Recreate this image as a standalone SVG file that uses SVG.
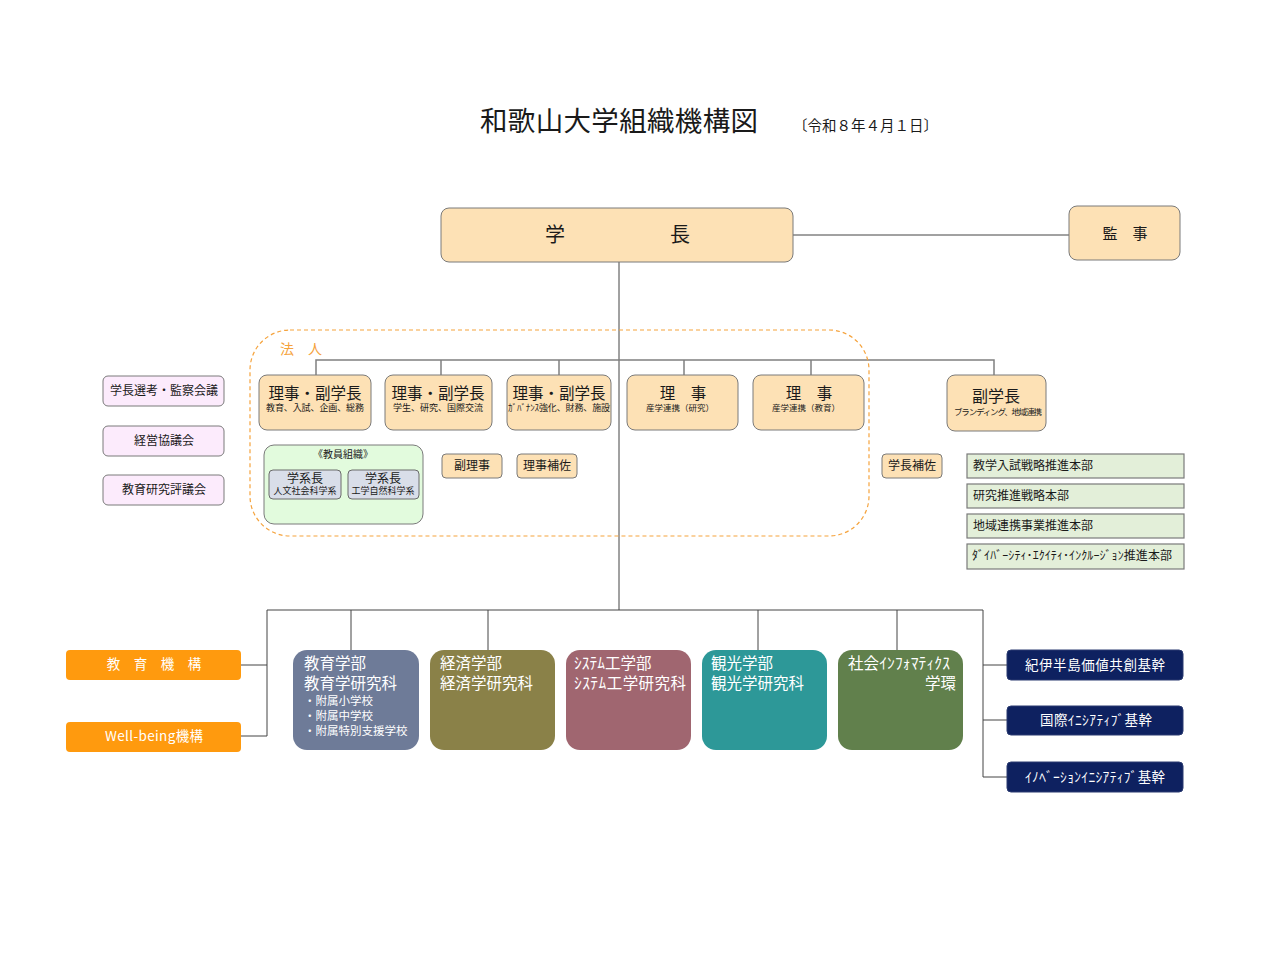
<svg xmlns="http://www.w3.org/2000/svg" width="1280" height="960" viewBox="0 0 1280 960">
<style>
text{font-family:"Noto Sans CJK JP","Noto Sans",sans-serif;fill:#1a1a1a}
.beige{fill:#FDE1B5;stroke:#7a7a7a;stroke-width:1}
.pink{fill:#FCEBFC;stroke:#7a7a7a;stroke-width:1}
.lg{fill:#E3EFD9;stroke:#7a7a7a;stroke-width:1.2}
.gb{fill:#D9DEE9;stroke:#6a6a6a;stroke-width:1}
.navy{fill:#0E2160;stroke:#2a3a70;stroke-width:1}
.orng{fill:#FF9A0E}
.w{fill:#fff}
.ln{stroke:#444;stroke-width:1;fill:none}
.lg2{stroke:#808080;stroke-width:1.5;fill:none}
.c{text-anchor:middle}
</style>
<rect width="1280" height="960" fill="#fff"/>
<text x="480" y="131" font-size="27.5" textLength="278">和歌山大学組織機構図</text>
<text x="793" y="131" font-size="14.5" textLength="145">〔令和８年４月１日〕</text>

<g id="connectors">
<path class="ln" d="M793 235H1069"/>
<path class="ln" d="M619 262V610"/>
<path class="lg2" d="M316 375V360H994V375M441 360V375M559 360V375M684 360V375M811 360V375"/>
<path class="ln" d="M305 499V512H383V499"/>
<path class="ln" d="M267 736V610H983V777M351 610V650M488 610V650M758 610V650M897 610V650"/>
<path class="ln" d="M241 665H267M241 736H267M983 665H1007M983 720H1007M983 777H1007"/>
</g>

<g id="houjin">
<rect x="250" y="330" width="619" height="206" rx="40" fill="none" stroke="#F5A33D" stroke-width="1.2" stroke-dasharray="4,3"/>
<text x="280" y="354" font-size="14" style="fill:#F5A33D">法　人</text>
</g>

<g id="gakucho"><rect class="beige" x="441" y="208" width="352" height="54" rx="8"/>
<text x="555" y="242" font-size="20" class="c">学</text><text x="680" y="242" font-size="20" class="c">長</text></g>
<g id="kanji"><rect class="beige" x="1069" y="206" width="111" height="54" rx="8"/>
<text x="1125" y="239" font-size="15" class="c">監　事</text></g>

<g id="riji1"><rect class="beige" x="259" y="375" width="112" height="55" rx="8"/>
<text x="315" y="399" font-size="15.5" class="c">理事・副学長</text>
<text x="315" y="411" font-size="9" class="c" textLength="98">教育、入試、企画、総務</text></g>
<g id="riji2"><rect class="beige" x="385" y="375" width="107" height="55" rx="8"/>
<text x="438" y="399" font-size="15.5" class="c">理事・副学長</text>
<text x="438" y="411" font-size="9" class="c" textLength="90">学生、研究、国際交流</text></g>
<g id="riji3"><rect class="beige" x="507" y="375" width="104" height="55" rx="8"/>
<text x="559" y="399" font-size="15.5" class="c">理事・副学長</text>
<text x="559" y="411" font-size="9" class="c" textLength="102">ｶﾞﾊﾞﾅﾝｽ強化、財務、施設</text></g>
<g id="riji4"><rect class="beige" x="627" y="375" width="111" height="55" rx="8"/>
<text x="683" y="399" font-size="15.5" class="c">理　事</text>
<text x="680" y="411" font-size="8.5" class="c">産学連携（研究）</text></g>
<g id="riji5"><rect class="beige" x="753" y="375" width="111" height="55" rx="8"/>
<text x="809" y="399" font-size="15.5" class="c">理　事</text>
<text x="806" y="411" font-size="8.5" class="c">産学連携（教育）</text></g>
<g id="fukugakucho"><rect class="beige" x="947" y="375" width="99" height="56" rx="8"/>
<text x="996" y="402" font-size="16" class="c">副学長</text>
<text x="998" y="415" font-size="8.5" class="c" textLength="88">ブランディング、地域連携</text></g>

<g id="kyoin"><rect x="264" y="445" width="159" height="79" rx="10" fill="#E2FBDD" stroke="#7a7a7a"/>
<text x="343" y="458" font-size="10" class="c">《教員組織》</text>
<rect class="gb" x="269" y="470" width="72" height="29" rx="4"/>
<text x="305" y="483" font-size="12" class="c">学系長</text>
<text x="305" y="494" font-size="9" class="c">人文社会科学系</text>
<rect class="gb" x="348" y="470" width="71" height="29" rx="4"/>
<text x="383" y="483" font-size="12" class="c">学系長</text>
<text x="383" y="494" font-size="9" class="c">工学自然科学系</text></g>

<g id="fukuriji"><rect class="beige" x="442" y="454" width="60" height="24" rx="4"/><text x="472" y="470" font-size="12" class="c">副理事</text></g>
<g id="rijihosa"><rect class="beige" x="517" y="454" width="60" height="24" rx="4"/><text x="547" y="470" font-size="12" class="c">理事補佐</text></g>
<g id="gakuchohosa"><rect class="beige" x="882" y="454" width="60" height="24" rx="4"/><text x="912" y="470" font-size="12" class="c">学長補佐</text></g>

<g id="honbu1"><rect class="lg" x="967" y="454" width="217" height="24"/><text x="973" y="470" font-size="12">教学入試戦略推進本部</text></g>
<g id="honbu2"><rect class="lg" x="967" y="484" width="217" height="24"/><text x="973" y="500" font-size="12">研究推進戦略本部</text></g>
<g id="honbu3"><rect class="lg" x="967" y="514" width="217" height="24"/><text x="973" y="530" font-size="12">地域連携事業推進本部</text></g>
<g id="honbu4"><rect class="lg" x="967" y="544" width="217" height="25"/><text x="972" y="560" font-size="12" textLength="200">ﾀﾞｲﾊﾞｰｼﾃｨ･ｴｸｲﾃｨ･ｲﾝｸﾙｰｼﾞｮﾝ推進本部</text></g>

<g id="senko"><rect class="pink" x="103" y="376" width="121" height="30" rx="5"/><text x="164" y="395" font-size="12" class="c">学長選考・監察会議</text></g>
<g id="keiei"><rect class="pink" x="103" y="426" width="121" height="30" rx="5"/><text x="164" y="445" font-size="12" class="c">経営協議会</text></g>
<g id="hyogi"><rect class="pink" x="103" y="475" width="121" height="30" rx="5"/><text x="164" y="494" font-size="12" class="c">教育研究評議会</text></g>

<g id="kyoiku-kiko"><rect class="orng" x="66" y="650" width="175" height="30" rx="4"/><text class="w c" x="154" y="669" font-size="13.5">教　育　機　構</text></g>
<g id="wellbeing"><rect class="orng" x="66" y="722" width="175" height="30" rx="4"/><text class="w c" x="154" y="741" font-size="13.5" textLength="98">Well-being機構</text></g>

<g id="kyoiku"><rect x="293" y="650" width="126" height="100" rx="14" fill="#6E7B98"/>
<text class="w" x="304" y="669" font-size="15.5">教育学部</text>
<text class="w" x="304" y="689" font-size="15.5">教育学研究科</text>
<text class="w" x="304" y="705" font-size="11.5">・附属小学校</text>
<text class="w" x="304" y="720" font-size="11.5">・附属中学校</text>
<text class="w" x="304" y="735" font-size="11.5">・附属特別支援学校</text></g>
<g id="keizai"><rect x="430" y="650" width="125" height="100" rx="14" fill="#8A8148"/>
<text class="w" x="440" y="669" font-size="15.5">経済学部</text>
<text class="w" x="440" y="689" font-size="15.5">経済学研究科</text></g>
<g id="system"><rect x="566" y="650" width="125" height="100" rx="14" fill="#A06670"/>
<text class="w" x="574" y="669" font-size="15.5">ｼｽﾃﾑ工学部</text>
<text class="w" x="574" y="689" font-size="15.5" textLength="112">ｼｽﾃﾑ工学研究科</text></g>
<g id="kanko"><rect x="702" y="650" width="125" height="100" rx="14" fill="#2D9898"/>
<text class="w" x="711" y="669" font-size="15.5">観光学部</text>
<text class="w" x="711" y="689" font-size="15.5">観光学研究科</text></g>
<g id="social"><rect x="838" y="650" width="125" height="100" rx="14" fill="#61804C"/>
<text class="w" x="848" y="669" font-size="15.5" textLength="102">社会ｲﾝﾌｫﾏﾃｨｸｽ</text>
<text class="w" x="956" y="689" font-size="15.5" text-anchor="end">学環</text></g>

<g id="kii"><rect class="navy" x="1007" y="650" width="176" height="30" rx="4"/><text class="w c" x="1095" y="670" font-size="13.5" textLength="140">紀伊半島価値共創基幹</text></g>
<g id="kokusai"><rect class="navy" x="1007" y="706" width="176" height="29" rx="4"/><text class="w c" x="1096" y="725" font-size="13.5" textLength="112">国際ｲﾆｼｱﾃｨﾌﾞ基幹</text></g>
<g id="innov"><rect class="navy" x="1007" y="762" width="176" height="30" rx="4"/><text class="w c" x="1095" y="782" font-size="13.5" textLength="140">ｲﾉﾍﾞｰｼｮﾝｲﾆｼｱﾃｨﾌﾞ基幹</text></g>
</svg>
